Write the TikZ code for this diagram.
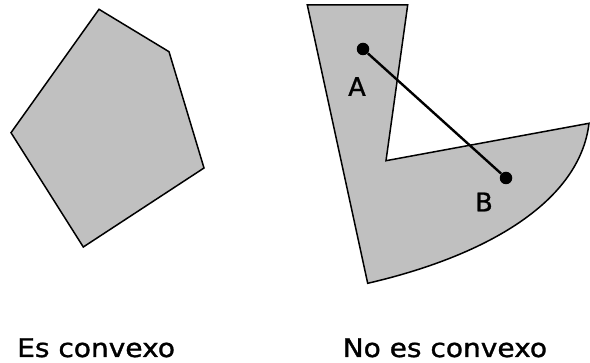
\documentclass[tikz,border=0pt]{standalone}
\usepackage{fontspec}
\usepackage{graphicx}
\setmainfont{DejaVu Sans}[FakeBold=1.2]
\begin{document}
\begin{tikzpicture}[x=1pt,y=-1pt,
  shapefill/.style={fill={rgb,255:red,192;green,192;blue,192}, draw=black, line width=1.5pt, line join=miter},
  dotnode/.style={circle, fill=black, inner sep=0pt, minimum size=12.5pt},
  ptlabel/.style={inner sep=0pt, font=\fontsize{25.6}{30}\selectfont},
  caption/.style={inner sep=0pt, anchor=base west, font=\fontsize{25.6}{30}\selectfont}]
\useasboundingbox (0,0) rectangle (590,363);
% convex polygon
\coordinate (c1) at (99,9.3);
\coordinate (c2) at (169,51.7);
\coordinate (c3) at (204,168);
\coordinate (c4) at (83.3,247);
\coordinate (c5) at (11,132.7);
\draw[shapefill] (c1) -- (c2) -- (c3) -- (c4) -- (c5) -- cycle;
% non-convex shape
\coordinate (n1) at (307.3,5);
\coordinate (n2) at (407.7,5);
\coordinate (n3) at (386,160.7);
\coordinate (n4) at (589,123.3);
\coordinate (n5) at (367.7,283.3);
\draw[shapefill] (n1) -- (n2) -- (n3) -- (n4) .. controls (580,200) and (490,255) .. (n5) -- cycle;
% points
\node[dotnode] (A) at (363,49) {};
\node[dotnode] (B) at (506,178) {};
\draw[line width=2.4pt] (A) -- (B);
\node[ptlabel] (la) at (357,86.5) {A};
\node[ptlabel] (lb) at (484,202) {B};
% captions
\node[caption] (t1) at (17,357) {\scalebox{1.095}[1]{Es convexo}};
\node[caption] (t2) at (342.5,357) {\scalebox{1.095}[1]{No es convexo}};
\end{tikzpicture}
\end{document}
